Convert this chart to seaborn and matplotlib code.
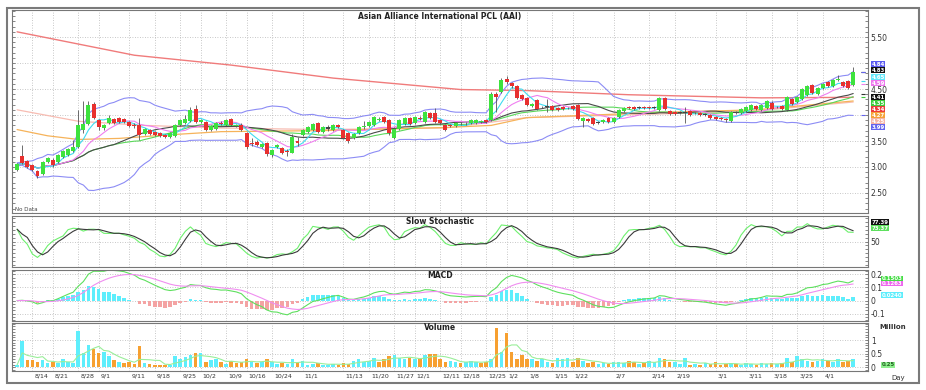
import numpy as np
import pandas as pd
import seaborn as sns
import matplotlib.pyplot as plt
import matplotlib.transforms as mtrans
from matplotlib.patches import Rectangle
from matplotlib.ticker import MultipleLocator

# Datos diarios (precio en THB, volumen en millones de acciones)
opens = [2.94, 3.22, 3.12, 3.03, 2.93, 2.86, 3.10, 3.14, 3.10, 3.20,
         3.24, 3.30, 3.39, 3.72, 3.82, 4.22, 3.90, 3.75, 3.84, 3.93,
         3.94, 3.92, 3.87, 3.80, 3.80, 3.64, 3.72, 3.68, 3.66, 3.62,
         3.58, 3.60, 3.80, 3.84, 3.88, 4.12, 3.86, 3.86, 3.72, 3.74,
         3.85, 3.81, 3.92, 3.78, 3.81, 3.65, 3.47, 3.49, 3.39, 3.46,
         3.23, 3.38, 3.36, 3.30, 3.27, 3.50, 3.62, 3.68, 3.71, 3.84,
         3.68, 3.74, 3.71, 3.80, 3.71, 3.65, 3.55, 3.65, 3.76, 3.78,
         3.81, 3.90, 3.97, 3.90, 3.56, 3.74, 3.83, 3.94, 3.84, 3.95,
         3.87, 4.03, 4.03, 3.90, 3.81, 3.80, 3.79, 3.82, 3.82, 3.84,
         3.85, 3.87, 3.90, 3.90, 4.40, 4.45, 4.70, 4.62, 4.55, 4.38,
         4.32, 4.17, 4.28, 4.16, 4.18, 4.17, 4.13, 4.15, 4.14, 4.18,
         4.20, 3.88, 3.93, 3.95, 3.86, 3.86, 3.95, 3.86, 3.96, 4.08,
         4.15, 4.16, 4.14, 4.15, 4.16, 4.14, 4.10, 4.32, 4.08, 4.06,
         4.05, 4.06, 4.07, 4.04, 4.03, 4.02, 4.00, 3.97, 3.95, 3.93,
         3.88, 4.03, 4.04, 4.07, 4.10, 4.17, 4.10, 4.13, 4.24, 4.16,
         4.17, 4.10, 4.30, 4.25, 4.30, 4.38, 4.58, 4.40, 4.52, 4.64,
         4.56, 4.68, 4.64, 4.66, 4.58]
closes = [3.05, 3.08, 3.00, 2.95, 2.82, 3.10, 3.18, 3.04, 3.23, 3.30,
          3.35, 3.38, 3.81, 3.82, 4.20, 3.95, 3.76, 3.80, 3.95, 3.85,
          3.87, 3.86, 3.79, 3.78, 3.62, 3.73, 3.64, 3.61, 3.60, 3.57,
          3.66, 3.80, 3.90, 3.92, 4.10, 3.86, 3.90, 3.72, 3.78, 3.85,
          3.82, 3.90, 3.81, 3.80, 3.71, 3.38, 3.45, 3.42, 3.44, 3.25,
          3.32, 3.42, 3.27, 3.28, 3.58, 3.47, 3.71, 3.77, 3.82, 3.68,
          3.76, 3.76, 3.80, 3.77, 3.55, 3.50, 3.63, 3.77, 3.78, 3.87,
          3.97, 3.92, 3.87, 3.65, 3.74, 3.90, 3.94, 3.83, 3.97, 3.93,
          4.06, 3.94, 3.87, 3.84, 3.71, 3.78, 3.84, 3.83, 3.83, 3.90,
          3.90, 3.89, 3.86, 4.40, 4.35, 4.68, 4.64, 4.55, 4.32, 4.30,
          4.19, 4.22, 4.12, 4.15, 4.16, 4.10, 4.10, 4.12, 4.13, 4.12,
          3.92, 3.95, 3.88, 3.82, 3.85, 3.90, 3.86, 3.95, 4.10, 4.14,
          4.13, 4.12, 4.14, 4.13, 4.13, 4.14, 4.32, 4.12, 4.02, 4.02,
          4.03, 4.04, 4.00, 4.03, 4.00, 4.00, 3.95, 3.93, 3.92, 3.91,
          4.06, 4.04, 4.12, 4.16, 4.19, 4.12, 4.19, 4.26, 4.12, 4.15,
          4.12, 4.35, 4.22, 4.34, 4.50, 4.55, 4.42, 4.51, 4.60, 4.55,
          4.67, 4.70, 4.55, 4.52, 4.83]
highs = [3.08, 3.42, 3.14, 3.05, 2.95, 3.12, 3.20, 3.18, 3.25, 3.32,
         3.37, 3.52, 4.10, 4.26, 4.27, 4.25, 3.92, 3.83, 4.00, 3.95,
         3.96, 3.94, 3.89, 3.84, 3.94, 3.75, 3.74, 3.70, 3.68, 3.64,
         3.68, 3.82, 3.92, 4.00, 4.15, 4.20, 3.92, 3.88, 3.80, 3.87,
         3.88, 3.92, 3.94, 3.83, 3.84, 3.67, 3.55, 3.51, 3.46, 3.48,
         3.34, 3.45, 3.38, 3.34, 3.63, 3.58, 3.73, 3.79, 3.84, 3.86,
         3.78, 3.80, 3.82, 3.82, 3.73, 3.67, 3.65, 3.79, 3.88, 3.89,
         3.99, 3.96, 3.99, 3.92, 3.76, 3.92, 3.96, 3.96, 3.99, 3.98,
         4.08, 4.05, 4.13, 3.92, 3.83, 3.82, 3.86, 3.86, 3.86, 3.92,
         3.92, 3.91, 3.92, 4.45, 4.45, 4.72, 4.76, 4.64, 4.57, 4.40,
         4.34, 4.24, 4.30, 4.18, 4.30, 4.19, 4.15, 4.17, 4.16, 4.20,
         4.22, 3.97, 3.95, 3.97, 3.88, 3.92, 3.97, 3.97, 4.12, 4.16,
         4.18, 4.18, 4.17, 4.17, 4.18, 4.17, 4.34, 4.34, 4.10, 4.08,
         4.07, 4.15, 4.09, 4.06, 4.05, 4.04, 4.02, 3.99, 3.97, 3.95,
         4.08, 4.07, 4.14, 4.18, 4.21, 4.19, 4.21, 4.28, 4.26, 4.18,
         4.19, 4.37, 4.32, 4.36, 4.52, 4.57, 4.60, 4.53, 4.62, 4.66,
         4.69, 4.77, 4.66, 4.68, 4.93]
lows = [2.92, 3.05, 2.98, 2.92, 2.78, 2.84, 3.08, 3.00, 3.08, 3.18,
        3.22, 3.28, 3.37, 3.65, 3.80, 3.92, 3.72, 3.72, 3.82, 3.82,
        3.85, 3.84, 3.76, 3.75, 3.52, 3.62, 3.62, 3.59, 3.58, 3.55,
        3.56, 3.58, 3.78, 3.82, 3.86, 3.84, 3.84, 3.70, 3.70, 3.72,
        3.80, 3.79, 3.79, 3.76, 3.69, 3.35, 3.40, 3.40, 3.37, 3.22,
        3.20, 3.36, 3.25, 3.22, 3.26, 3.40, 3.60, 3.66, 3.69, 3.66,
        3.66, 3.70, 3.69, 3.75, 3.53, 3.47, 3.53, 3.63, 3.74, 3.76,
        3.79, 3.88, 3.85, 3.62, 3.54, 3.72, 3.81, 3.81, 3.82, 3.91,
        3.85, 3.92, 3.85, 3.82, 3.69, 3.76, 3.77, 3.80, 3.80, 3.82,
        3.83, 3.85, 3.84, 3.88, 4.05, 4.43, 4.60, 4.52, 4.30, 4.28,
        4.17, 4.15, 4.10, 4.13, 4.05, 4.08, 4.08, 4.10, 4.11, 4.10,
        3.90, 3.76, 3.86, 3.80, 3.83, 3.84, 3.84, 3.84, 3.94, 4.06,
        4.11, 4.10, 4.12, 4.11, 4.11, 4.12, 4.08, 4.10, 4.00, 4.00,
        4.01, 3.84, 3.98, 4.01, 3.98, 3.98, 3.93, 3.91, 3.90, 3.86,
        3.86, 4.01, 4.02, 4.05, 4.08, 4.10, 4.08, 4.11, 4.10, 4.13,
        4.10, 4.08, 4.20, 4.23, 4.28, 4.36, 4.40, 4.38, 4.50, 4.53,
        4.54, 4.66, 4.53, 4.50, 4.56]
volume = [0.09, 0.97, 0.26, 0.28, 0.20, 0.26, 0.16, 0.20, 0.16, 0.29,
          0.20, 0.16, 1.32, 0.52, 0.80, 0.68, 0.52, 0.58, 0.40, 0.26,
          0.20, 0.16, 0.20, 0.13, 0.78, 0.16, 0.13, 0.10, 0.10, 0.10,
          0.10, 0.40, 0.30, 0.37, 0.46, 0.52, 0.52, 0.20, 0.26, 0.29,
          0.20, 0.13, 0.25, 0.16, 0.20, 0.30, 0.20, 0.15, 0.20, 0.30,
          0.18, 0.12, 0.15, 0.12, 0.30, 0.20, 0.22, 0.10, 0.12, 0.15,
          0.10, 0.10, 0.12, 0.10, 0.15, 0.12, 0.25, 0.30, 0.20, 0.25,
          0.35, 0.20, 0.30, 0.40, 0.45, 0.35, 0.30, 0.35, 0.30, 0.30,
          0.45, 0.50, 0.50, 0.30, 0.20, 0.22, 0.20, 0.15, 0.20, 0.25,
          0.20, 0.15, 0.20, 0.30, 1.45, 0.55, 1.25, 0.55, 0.30, 0.45,
          0.30, 0.30, 0.25, 0.30, 0.20, 0.15, 0.35, 0.30, 0.35, 0.20,
          0.35, 0.25, 0.15, 0.20, 0.12, 0.15, 0.12, 0.18, 0.20, 0.15,
          0.25, 0.20, 0.12, 0.15, 0.25, 0.20, 0.35, 0.30, 0.20, 0.20,
          0.12, 0.35, 0.10, 0.12, 0.10, 0.15, 0.12, 0.20, 0.10, 0.12,
          0.15, 0.12, 0.10, 0.15, 0.12, 0.10, 0.15, 0.12, 0.15, 0.12,
          0.15, 0.35, 0.20, 0.40, 0.30, 0.25, 0.20, 0.25, 0.30, 0.25,
          0.20, 0.30, 0.20, 0.25, 0.30]

# Medias largas (indice de vela, valor)
ma200_idx = [0, 23, 42, 62, 87, 100, 120, 146, 164]
ma200_val = [5.60, 5.15, 4.96, 4.71, 4.49, 4.47, 4.39, 4.33, 4.34]
ma100_idx = [0, 12, 25, 40, 60, 84, 100, 126, 145, 164]
ma100_val = [4.10, 3.88, 3.80, 3.75, 3.72, 3.75, 3.95, 4.02, 4.08, 4.25]
ma75_idx = [0, 6, 12, 20, 30, 40, 60, 84, 93, 100, 126, 145, 164]
ma75_val = [3.72, 3.60, 3.53, 3.55, 3.62, 3.68, 3.70, 3.76, 3.80, 3.95, 4.05, 4.10, 4.27]

# Fechas del eje x
date_ticks = [3, 7, 12, 16, 22, 27, 32, 36, 41, 45, 50, 56, 64, 69, 74, 78,
              83, 87, 92, 96, 100, 105, 109, 117, 124, 129, 137, 143, 148, 153, 158]
date_labels = ["8/14", "8/21", "8/28", "9/1", "9/11", "9/18", "9/25", "10/2",
               "10/9", "10/16", "10/24", "11/1", "11/13", "11/20", "11/27", "12/1",
               "12/11", "12/18", "12/25", "1/2", "1/8", "1/15", "1/22", "2/7",
               "2/14", "2/19", "3/1", "3/11", "3/18", "3/25", "4/1"]

df = pd.DataFrame({"open": opens, "close": closes, "high": highs,
                   "low": lows, "vol": volume})
df["i"] = np.arange(len(df))
c = df["close"]

# Indicadores
df["ma5"] = c.rolling(5, min_periods=1).mean()
df["ma10"] = c.rolling(10, min_periods=1).mean()
df["ma20"] = c.rolling(20, min_periods=1).mean()
df["ma25"] = c.rolling(25, min_periods=1).mean()
sd = c.rolling(20, min_periods=2).std(ddof=0).bfill()
df["bb_up"] = df["ma20"] + 2 * sd
df["bb_lo"] = df["ma20"] - 2 * sd

ll = df["low"].rolling(14, min_periods=1).min()
hh = df["high"].rolling(14, min_periods=1).max()
raw_k = 100 * (c - ll) / (hh - ll)
df["slow_k"] = raw_k.rolling(3, min_periods=1).mean()
df["slow_d"] = df["slow_k"].rolling(3, min_periods=1).mean()

ema12 = c.ewm(span=12, adjust=False).mean()
ema26 = c.ewm(span=26, adjust=False).mean()
df["macd"] = ema12 - ema26
df["signal"] = df["macd"].ewm(span=9, adjust=False).mean()
df["hist"] = df["macd"] - df["signal"]
df["vol_ma"] = df["vol"].rolling(5, min_periods=1).mean()

sns.set_style("white")
plt.rcParams["font.family"] = ["DejaVu Sans"]

W, H = 926, 390
fig = plt.figure(figsize=(W / 100, H / 100), dpi=100)


def px_axes(top, bottom):
    return fig.add_axes([12 / W, 1 - bottom / H, (868 - 12) / W, (bottom - top) / H])


ax_p = px_axes(10, 213)
ax_s = px_axes(216, 267)
ax_m = px_axes(270, 321)
ax_v = px_axes(323, 371)
axes = [ax_p, ax_s, ax_m, ax_v]

grid_kw = dict(color="#b5b5b5", lw=0.6, ls=(0, (1, 2)))
for ax in axes:
    ax.set_xlim(-1, 166.9)
    ax.set_xticks(date_ticks)
    ax.grid(True, axis="both", **grid_kw)
    ax.set_axisbelow(True)
    ax.tick_params(axis="x", labelbottom=False, length=0)
    ax.tick_params(axis="y", which="both", left=True, right=True, labelleft=False,
                   labelright=True, labelsize=5.5, labelcolor="#333333",
                   direction="in", length=2, width=0.5, color="#555555", pad=2)
    for s in ax.spines.values():
        s.set_color("#777777")
        s.set_linewidth(0.8)

# Precio
for idx, val, col, lw in [(ma200_idx, ma200_val, "#f07b7b", 1.0),
                          (ma100_idx, ma100_val, "#f7bcb2", 0.9),
                          (ma75_idx, ma75_val, "#f6b35a", 0.9)]:
    sns.lineplot(x=idx, y=val, ax=ax_p, color=col, lw=lw)
for col_name, col in [("bb_up", "#8c8cf5"), ("bb_lo", "#8c8cf5"), ("ma25", "#5ad85a"),
                      ("ma20", "#4a4a4a"), ("ma10", "#f07ff0"), ("ma5", "#3fdcf0")]:
    sns.lineplot(data=df, x="i", y=col_name, ax=ax_p, color=col, lw=0.8)

body = (df["close"] - df["open"]).abs()
doji = body < 0.02
cand_col = np.where(doji, "#444444", np.where(df["close"] > df["open"], "#3ee23e", "#e8302f"))
ax_p.vlines(df["i"], df["low"], df["high"], color="#555555", lw=0.6, zorder=3)
ax_p.bar(df["i"], np.maximum(body, 0.012), bottom=np.minimum(df["open"], df["close"]),
         width=0.78, color=cand_col, lw=0, zorder=4)
ax_p.set_ylim(2.115, 6.02)
ax_p.set_yticks([2.5, 3.0, 3.5, 4.0, 4.5, 5.0, 5.5])
# 4.00 y 5.00 quedan tapados por las etiquetas de valor
ax_p.set_yticklabels(["2.50", "3.00", "3.50", "", "4.50", "", "5.50"])
ax_p.yaxis.set_minor_locator(MultipleLocator(0.1))

# Estocastico lento
sns.lineplot(data=df, x="i", y="slow_k", ax=ax_s, color="#6ef06e", lw=0.8)
sns.lineplot(data=df, x="i", y="slow_d", ax=ax_s, color="#3a3a3a", lw=0.8)
ax_s.set_ylim(-15, 115)
ax_s.set_yticks([50])
ax_s.set_yticklabels(["50"])
ax_s.yaxis.set_minor_locator(MultipleLocator(10))

# MACD
hcol = np.where(df["hist"] >= 0, "#5eeefc", "#f4a3a3")
ax_m.bar(df["i"], df["hist"], width=0.7, color=hcol, lw=0)
sns.lineplot(data=df, x="i", y="macd", ax=ax_m, color="#5ee05e", lw=0.8)
sns.lineplot(data=df, x="i", y="signal", ax=ax_m, color="#f08ef0", lw=0.8)
ax_m.set_ylim(-0.155, 0.2325)
ax_m.set_yticks([-0.1, 0, 0.1, 0.2])
ax_m.set_yticklabels(["-0.1", "0", "0.1", "0.2"])
ax_m.yaxis.set_minor_locator(MultipleLocator(0.025))

# Volumen
up = df["close"].diff().fillna(0) >= 0
vcol = np.where(up, "#5eeefc", "#f7a030")
ax_v.bar(df["i"], df["vol"], width=0.7, color=vcol, lw=0)
sns.lineplot(data=df, x="i", y="vol_ma", ax=ax_v, color="#9aee9a", lw=0.8)
ax_v.set_ylim(-0.13, 1.62)
ax_v.set_yticks([0, 0.5, 1])
ax_v.set_yticklabels(["0", "0.5", "1"])
ax_v.yaxis.set_minor_locator(MultipleLocator(0.1))
ax_v.tick_params(axis="x", labelbottom=True, length=8, direction="out",
                 width=0.5, color="#555555", labelsize=4.5, labelcolor="#333333", pad=-6)
ax_v.set_xticklabels(date_labels)
shift = mtrans.ScaledTranslation(2 / 100, 0, fig.dpi_scale_trans)
for lbl in ax_v.get_xticklabels():
    lbl.set_horizontalalignment("left")
    lbl.set_transform(lbl.get_transform() + shift)

for ax in axes:
    ax.set_xlabel("")
    ax.set_ylabel("")

# Titulos de los paneles
for ax, title in [(ax_p, "Asian Alliance International PCL (AAI)"), (ax_s, "Slow Stochastic"),
                  (ax_m, "MACD"), (ax_v, "Volume")]:
    ax.text(0.5, 0.99, title, transform=ax.transAxes, ha="center", va="top",
            fontsize=5.5, fontweight="bold", color="#222222")
ax_p.text(0.004, 0.005, "No Data", transform=ax_p.transAxes, ha="left", va="bottom",
          fontsize=4, color="#444444")
fig.text(893 / W, 1 - 327 / H, "Million", ha="center", va="center", fontsize=5,
         fontweight="bold", color="#333333")
fig.text(898 / W, 1 - 378 / H, "Day", ha="center", va="center", fontsize=5, color="#333333")

# Etiquetas de valor a la derecha
last = df.iloc[-1]


def tag(ax, y, value, fc, tc="white", fmt="{:.2f}", x=1.004):
    tr = mtrans.blended_transform_factory(ax.transAxes, ax.transData)
    ax.text(x, y, fmt.format(value), transform=tr, ha="left", va="center",
            fontsize=3.9, fontweight="bold", color=tc, clip_on=False, zorder=10,
            bbox=dict(boxstyle="square,pad=0.08", fc=fc, ec="none"))


# posiciones apiladas en pixeles (y) de la columna derecha
price_tags = [(64, last["bb_up"], "#5a5af0"), (70, last["close"], "#111111"),
              (77, last["ma5"], "#63e8fb"), (83, last["ma10"], "#ee77ee"),
              (97, last["ma20"], "#111111"), (103, last["ma25"], "#3ccc3c"),
              (109, ma200_val[-1], "#ec3b3b"), (115, ma75_val[-1], "#f5a23a"),
              (121, ma100_val[-1], "#f5b4a6"), (127, last["bb_lo"], "#6464ee")]
for ypx, v, fc in price_tags:
    tag(ax_p, 4.5 - (ypx - 89) / 52, v, fc)
for v, col in [(last["close"], "#222222"), (last["ma5"], "#3fdcf0"), (last["ma10"], "#f07ff0"),
               (last["ma20"], "#333333"), (last["ma25"], "#3ccc3c"), (last["bb_lo"], "#6464ee"),
               (last["bb_up"], "#6464ee")]:
    ax_p.plot(166, v, marker="_", color=col, ms=3, mew=0.8, clip_on=False)

tag(ax_s, 99, last["slow_d"], "#111111")
tag(ax_s, 84, last["slow_k"], "#5ee05e")
tag(ax_m, 0.168, last["macd"], "#44dd44", fmt="{:.4f}", x=1.016)
tag(ax_m, 0.130, last["signal"], "#ee66ee", fmt="{:.4f}", x=1.016)
tag(ax_m, 0.040, last["hist"], "#5eeefc", fmt="{:.4f}", x=1.016)
tag(ax_v, 0.09, last["vol_ma"], "#8ef08e", tc="#226622", x=1.016)

# Marco exterior
fig.add_artist(Rectangle((7 / W, 1 - 383 / H), (919 - 7) / W, (383 - 8) / H,
                         transform=fig.transFigure, fill=False, ec="#7a7a7a", lw=1.5))

fig.savefig("out.png", dpi=100)
